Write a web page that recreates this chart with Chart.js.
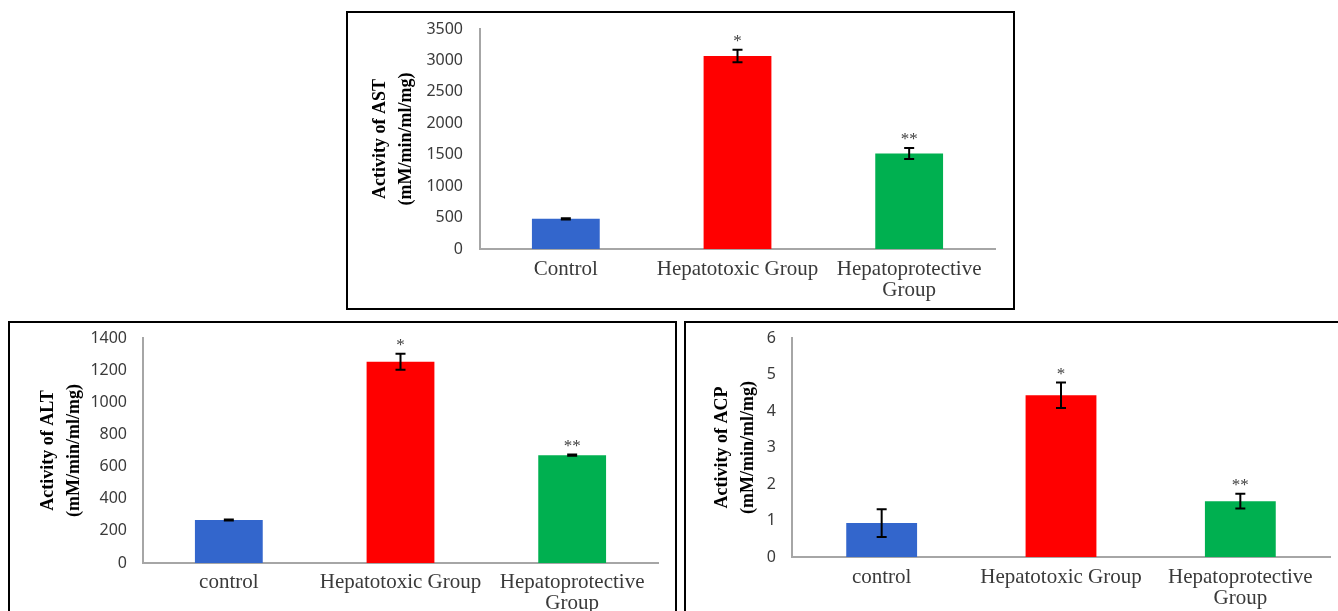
<!DOCTYPE html>
<html>
<head>
<meta charset="utf-8">
<script src="https://cdn.jsdelivr.net/npm/chart.js@4"></script>
<style>
  body { margin: 0; background: #fff; width: 1338px; height: 611px; overflow: hidden; position: relative; }
  .box { position: absolute; border: 2px solid #000; box-sizing: border-box; }
  .box canvas { display: block; }
</style>
</head>
<body>
<div class="box" style="left:346px;top:11px;width:669px;height:299px"><canvas id="astChart" width="665" height="295"></canvas></div>
<div class="box" style="left:8px;top:321px;width:669px;height:300px"><canvas id="altChart" width="665" height="296"></canvas></div>
<div class="box" style="left:684px;top:321px;width:665px;height:300px"><canvas id="acpChart" width="661" height="296"></canvas></div>
<script>
// groups
const upperGroups = ["Control", "Hepatotoxic Group", ["Hepatoprotective", "Group"]];
const lowerGroups = ["control", "Hepatotoxic Group", ["Hepatoprotective", "Group"]];
const barColors = ["#3366CC", "#FF0000", "#00B050"];
const stars = ["", "*", "**"];

// AST
const astValues = [480, 3070, 1520];
const astErrors = [10, 100, 88];
const astTicks = [0, 500, 1000, 1500, 2000, 2500, 3000, 3500];

// ALT
const altValues = [268, 1252, 671];
const altErrors = [3, 50, 4];
const altTicks = [0, 200, 400, 600, 800, 1000, 1200, 1400];

// ACP
const acpValues = [0.93, 4.43, 1.53];
const acpErrors = [0.38, 0.35, 0.2];
const acpTicks = [0, 1, 2, 3, 4, 5, 6];

//error bars + stars
const errorBars = {
    id: "errorBars",
    afterDatasetsDraw(chart) {
        const ctx = chart.ctx;
        const xs = chart.scales.x;
        const ys = chart.scales.y;
        const ds = chart.data.datasets[0];
        ctx.save();
        ds.data.forEach(function(v, i) {
            let px = xs.getPixelForValue(i);
            let top = ys.getPixelForValue(v + ds.errors[i]);
            let bot = ys.getPixelForValue(v - ds.errors[i]);
            ctx.strokeStyle = "#000";
            ctx.lineWidth = 2;
            ctx.beginPath();
            ctx.moveTo(px, top); ctx.lineTo(px, bot);
            ctx.moveTo(px - 5, top); ctx.lineTo(px + 5, top);
            ctx.moveTo(px - 5, bot); ctx.lineTo(px + 5, bot);
            ctx.stroke();
            if (ds.stars[i]) {
                ctx.fillStyle = "#404040";
                ctx.font = "17px 'Liberation Serif'";
                ctx.textAlign = "center";
                ctx.textBaseline = "alphabetic";
                ctx.fillText(ds.stars[i], px, top - 4);
            }
        });
        ctx.restore();
    }
};

function makeChart(id, labels, values, errors, ticks, title, geo) {
    new Chart(document.getElementById(id), {
        type: "bar",
        data: {
            labels: labels,
            datasets: [{
                data: values,
                errors: errors,
                stars: stars,
                backgroundColor: barColors,
                categoryPercentage: 1,
                barPercentage: 0.395
            }]
        },
        plugins: [errorBars],
        options: {
            responsive: false,
            animation: false,
            layout: { padding: { left: 0, top: geo.top, right: geo.right, bottom: 0 } },
            plugins: { legend: { display: false }, tooltip: { enabled: false } },
            scales: {
                x: {
                    grid: { display: false, drawTicks: true, tickLength: geo.xPad },
                    border: { color: "#a6a6a6", width: 2 },
                    ticks: {
                        color: "#3a3a3a",
                        font: { family: "'Liberation Serif'", size: 21, lineHeight: 1.0 },
                        padding: 0,
                        maxRotation: 0,
                        autoSkip: false
                    },
                    afterFit: function(s) { s.height = geo.xh; }
                },
                y: {
                    min: ticks[0],
                    max: ticks[ticks.length - 1],
                    grid: { display: false, drawTicks: true, tickLength: geo.yPad },
                    border: { color: "#a6a6a6", width: 2 },
                    ticks: {
                        stepSize: ticks[1] - ticks[0],
                        color: "#3a3a3a",
                        font: { family: "'Noto Sans'", size: 16 },
                        padding: 0,
                        callback: function(val) { return String(val); }
                    },
                    title: {
                        display: true,
                        text: title,
                        color: "#000",
                        font: { family: "'Liberation Serif'", size: 18, weight: "bold", lineHeight: "26px" },
                        padding: { top: geo.tPad, bottom: 0 }
                    },
                    afterFit: function(s) { s.width = geo.yw; }
                }
            }
        }
    });
}

makeChart("astChart", upperGroups, astValues, astErrors, astTicks,
    ["Activity of AST", "(mM/min/ml/mg)"],
    { top: 16, right: 18, xh: 59, yw: 132, xPad: 10, yPad: 17, tPad: 19 });

makeChart("altChart", lowerGroups, altValues, altErrors, altTicks,
    ["Activity of ALT", "(mM/min/ml/mg)"],
    { top: 15, right: 17, xh: 56, yw: 133, xPad: 9, yPad: 16, tPad: 25 });

makeChart("acpChart", lowerGroups, acpValues, acpErrors, acpTicks,
    ["Activity of ACP", "(mM/min/ml/mg)"],
    { top: 15, right: 17, xh: 62, yw: 106, xPad: 10, yPad: 16, tPad: 23 });
</script>
</body>
</html>
